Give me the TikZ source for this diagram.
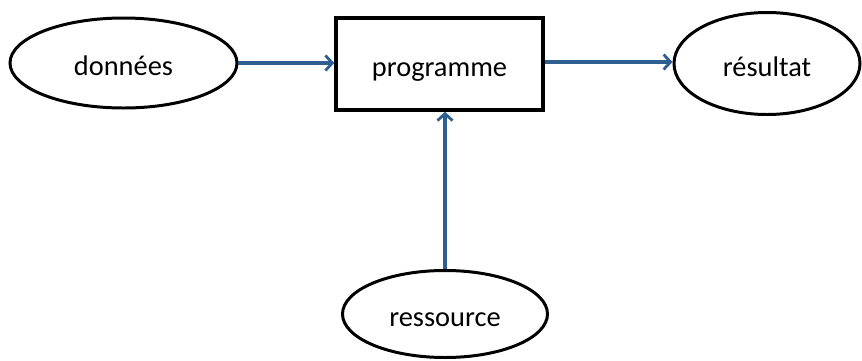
\documentclass[tikz,border=0pt]{standalone}
\usepackage{fontspec}
\setmainfont{Carlito}
\usetikzlibrary{arrows.meta,shapes.geometric}
\definecolor{linkblue}{HTML}{2F5F90}
\tikzset{
  labelfont/.style={font=\fontsize{28.5}{30}\selectfont, text height=25bp, text depth=0bp},
  blob/.style={ellipse, draw=black, line width=3pt, inner sep=0pt, labelfont},
  prog/.style={rectangle, draw=black, line width=3.4pt, inner sep=0pt, labelfont},
  flow/.style={draw=linkblue, line width=3.4pt, -{Straight Barb[length=7pt,width=15pt,line width=2.8pt]}}
}
\begin{document}
\begin{tikzpicture}[x=1bp,y=-1bp]
  \useasboundingbox (0,0) rectangle (862,360);
  \node[blob, minimum width=227bp, minimum height=90bp] (donnees) at (123.5,63) {données};
  \node[prog, minimum width=207bp, minimum height=92bp] (programme) at (439.5,64) {programme};
  \node[blob, minimum width=186bp, minimum height=102bp] (resultat) at (767,63.5) {résultat};
  \node[blob, minimum width=205bp, minimum height=87bp] (ressource) at (445,314) {ressource};
  \draw[flow] (donnees.east) -- (donnees.east -| programme.west);
  \draw[flow] (programme.east |- 0,62) -- (resultat.west |- 0,62);
  \draw[flow] (ressource.north) -- (ressource.north |- programme.south);
\end{tikzpicture}
\end{document}
